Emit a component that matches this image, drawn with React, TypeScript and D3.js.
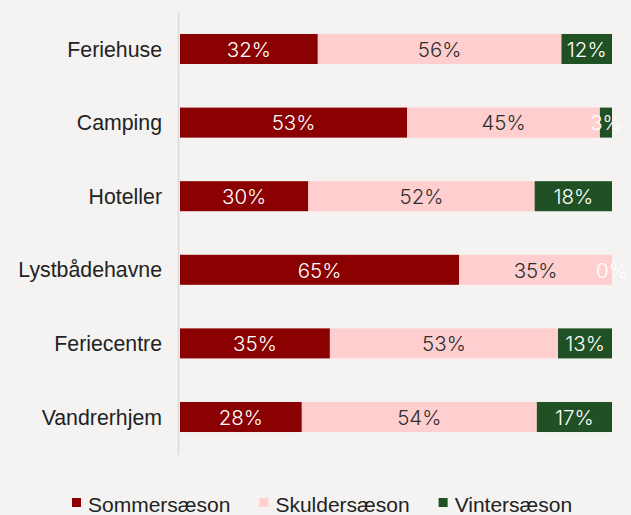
import React, { useRef, useEffect } from 'react'
import * as d3 from 'd3'

const categories = ['Feriehuse', 'Camping', 'Hoteller', 'Lystbådehavne', 'Feriecentre', 'Vandrerhjem']
const sommer = [31.9, 52.6, 29.7, 64.6, 34.7, 28.2]
const skulder = [56.4, 44.6, 52.4, 35.4, 52.8, 54.4]
const vinter = [11.7, 2.8, 17.9, 0, 12.5, 17.4]
const seriesNames = ['Sommersæson', 'Skuldersæson', 'Vintersæson']
const seriesColors = ['#8b0000', '#ffcfcf', '#1f5124']
const labelColors = ['#ffffff', '#2e2e2e', '#ffffff']

export default function App() {
    const visEl = useRef<HTMLDivElement>(null)
    const width = 631
    const height = 515

    useEffect(() => {
        document.body.style.margin = '0'
        const root = d3.select(visEl.current)
        root.selectAll('*').remove()
        const svg = root.append('svg')
            .attr('width', width)
            .attr('height', height)
            .style('display', 'block')
            .style('background', '#f4f3f1')

        const xScale = d3.scaleLinear().domain([0, 100]).range([180, 612])
        const yScale = d3.scaleBand<string>()
            .domain(categories)
            .range([13, 453])
            .paddingInner(0.592)
            .paddingOuter(0.285)

        const rows = categories.map((c, i) => ({ cat: c, vals: [sommer[i], skulder[i], vinter[i]] }))
        const stack = d3.stack<any>().keys(['0', '1', '2']).value((d, k) => d.vals[+k])
        const layers = stack(rows)

        // category labels
        svg.append('g').selectAll('text').data(categories).enter().append('text')
            .attr('x', 162)
            .attr('y', d => yScale(d)! + yScale.bandwidth() / 2)
            .attr('dy', '0.36em')
            .attr('text-anchor', 'end')
            .attr('font-family', '"Liberation Sans", Arial, sans-serif')
            .attr('font-size', 21.3)
            .attr('fill', '#222')
            .text(d => d)

        layers.forEach((layer, si) => {
            const g = svg.append('g')
            g.selectAll('rect').data(layer).enter().append('rect')
                .attr('x', d => xScale(d[0]))
                .attr('y', d => yScale(d.data.cat)!)
                .attr('width', d => xScale(d[1]) - xScale(d[0]))
                .attr('height', yScale.bandwidth())
                .attr('fill', seriesColors[si])
            g.selectAll('text').data(layer).enter().append('text')
                .attr('x', d => (xScale(d[0]) + xScale(d[1])) / 2)
                .attr('y', d => yScale(d.data.cat)! + yScale.bandwidth() / 2)
                .attr('dy', '0.38em')
                .attr('text-anchor', 'middle')
                .attr('font-family', 'Inter, "Open Sans", sans-serif')
                .attr('font-weight', 300)
                .attr('font-size', 20.5)
                .attr('fill', labelColors[si])
                .text(d => Math.round(d[1] - d[0]) + '%')
        })

        // axis line
        svg.append('line')
            .attr('x1', 178.5).attr('x2', 178.5)
            .attr('y1', 13).attr('y2', 455)
            .attr('stroke', '#d9d9d9')
            .attr('stroke-width', 1.5)

        // legend
        const legend = svg.append('g')
        let lx = 72
        seriesNames.forEach((name, i) => {
            legend.append('rect')
                .attr('x', lx).attr('y', 498)
                .attr('width', 9).attr('height', 9)
                .attr('fill', seriesColors[i])
            const t = legend.append('text')
                .attr('x', lx + 16).attr('y', 512)
                .attr('font-family', '"Liberation Sans", Arial, sans-serif')
                .attr('font-size', 21)
                .attr('fill', '#222')
                .text(name)
            const tw = (t.node() as SVGTextElement).getComputedTextLength()
            lx += 16 + tw + 29
        })
    }, [])

    return (
        <div>
            <div ref={visEl}></div>
        </div>
    )
}
